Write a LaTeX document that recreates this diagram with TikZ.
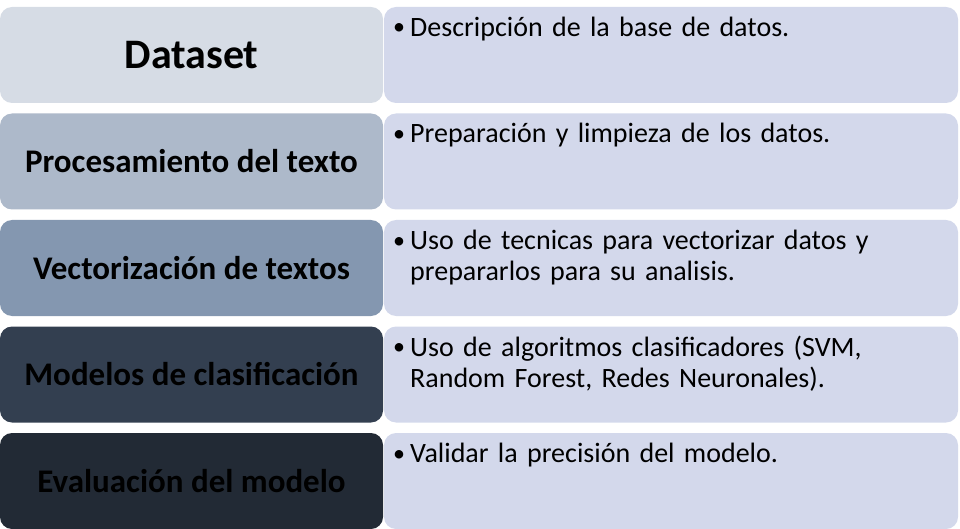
\documentclass[tikz,border=0pt]{standalone}
\usepackage{fontspec}
\setmainfont{Carlito}
\begin{document}
\begin{tikzpicture}[x=1pt,y=-1pt,
  leftbox/.style={draw=none,rounded corners=12pt,minimum width=383pt,minimum height=96pt,inner sep=0pt,font=\bfseries\fontsize{33}{36}\selectfont,text=black},
  rightbox/.style={draw=none,fill=rcol,rounded corners=12pt,minimum width=574pt,minimum height=96pt,inner sep=0pt},
  bul/.style={anchor=base west,align=left,text width=540pt,inner sep=0pt,font=\fontsize{28}{31}\selectfont},
  bdot/.style={anchor=base west,inner sep=0pt,font=\fontsize{24}{28}\selectfont}]
\definecolor{rcol}{HTML}{D3D8EB}
\definecolor{c1}{HTML}{D6DCE5}
\definecolor{c2}{HTML}{ADB9CA}
\definecolor{c3}{HTML}{8497B0}
\definecolor{c4}{HTML}{333F50}
\definecolor{c5}{HTML}{222A35}
\useasboundingbox (0,0) rectangle (960,529);
% right boxes
\node[rightbox] (r1) at (671,55) {};
\node[rightbox] (r2) at (671,161.5) {};
\node[rightbox] (r3) at (671,268) {};
\node[rightbox] (r4) at (671,374.5) {};
\node[rightbox] (r5) at (671,481) {};
% left boxes
\node[leftbox,fill=c1,font=\bfseries\fontsize{42}{46}\selectfont] (l1) at (191.5,55) {Dataset};
\node[leftbox,fill=c2] (l2) at (191.5,161.5) {Procesamiento del texto};
\node[leftbox,fill=c3] (l3) at (191.5,268) {Vectorización de textos};
\node[leftbox,fill=c4] (l4) at (191.5,374.5) {Modelos de clasificación};
\node[leftbox,fill=c5] (l5) at (191.5,481) {Evaluación del modelo};
% bullets
\node[bul] (t1) at (410,36.5) {Descripción de la base de datos.};
\node[bul] (t2) at (410,143) {Preparación y limpieza de los datos.};
\node[bul] (t3) at (410,249.5) {Uso de tecnicas para vectorizar datos y\\ prepararlos para su analisis.};
\node[bul] (t4) at (410,356) {Uso de algoritmos clasificadores (SVM,\\ Random Forest, Redes Neuronales).};
\node[bul] (t5) at (410,462.5) {Validar la precisión del modelo.};
\foreach \i/\y in {1/35,2/141.5,3/248,4/354.5,5/461} {
  \node[bdot] (b\i) at (393,\y) {•};
}
\end{tikzpicture}
\end{document}
